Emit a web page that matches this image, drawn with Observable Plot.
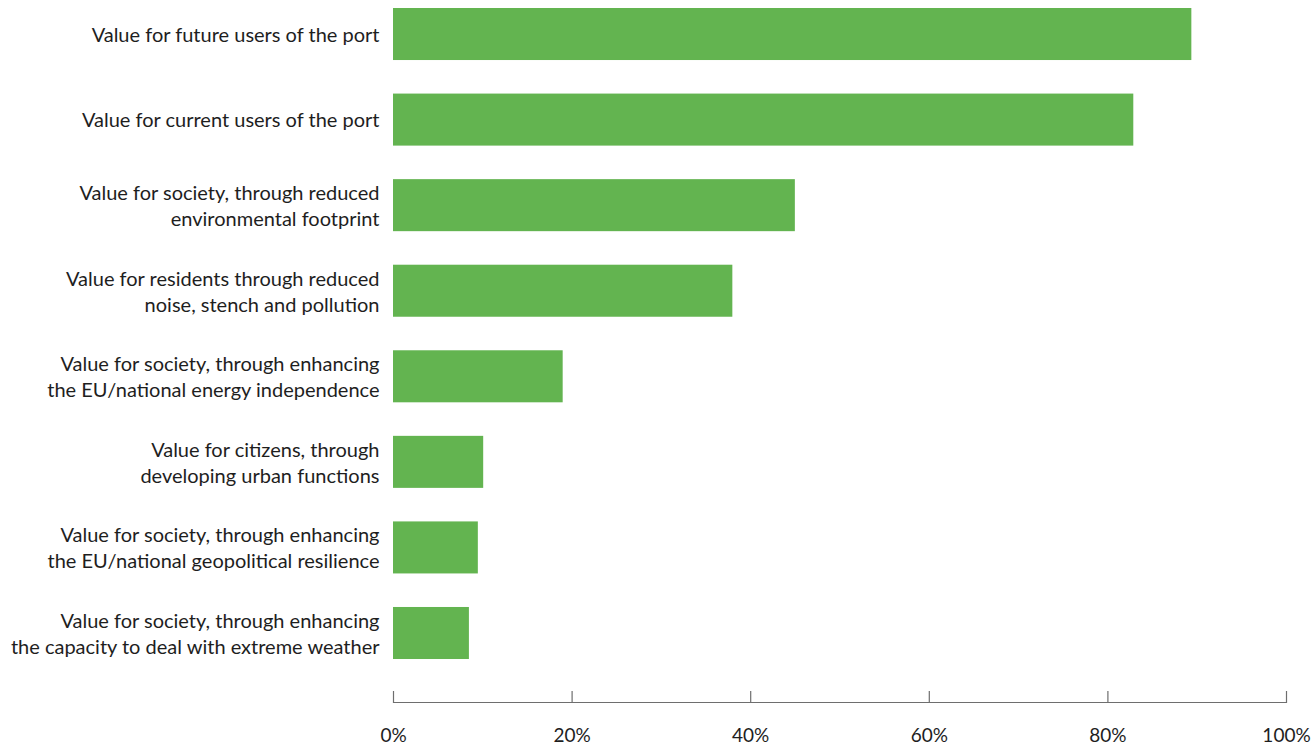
<!DOCTYPE html>
<html><head><meta charset="utf-8">
<script src="https://cdn.jsdelivr.net/npm/d3@7"></script>
<script src="https://cdn.jsdelivr.net/npm/@observablehq/plot@0.6"></script>
<style>body{margin:0;background:#fff}</style>
</head><body><div id="chart"></div>
<script>
const categories = [
  "Value for future users of the port",
  "Value for current users of the port",
  "Value for society, through reduced\nenvironmental footprint",
  "Value for residents through reduced\nnoise, stench and pollution",
  "Value for society, through enhancing\nthe EU/national energy independence",
  "Value for citizens, through\ndeveloping urban functions",
  "Value for society, through enhancing\nthe EU/national geopolitical resilience",
  "Value for society, through enhancing\nthe capacity to deal with extreme weather"
];
const values = [89.4, 82.9, 45.0, 38.0, 19.0, 10.1, 9.5, 8.5];
const xTicks = [0, 20, 40, 60, 80, 100];

const data = categories.map((c, i) => ({category: c, value: values[i]}));

const chart = Plot.plot({
  width: 1312, height: 752,
  marginLeft: 393, marginRight: 26, marginTop: 0, marginBottom: 50,
  style: {fontFamily: "Lato, sans-serif", fontSize: "20px", color: "#1e1e1e", background: "#fff"},
  x: {domain: [0, 100]},
  y: {domain: categories, paddingInner: 0.392, paddingOuter: 0.298, align: 0.157, round: false},
  marks: [
    Plot.barX(data, {x: "value", y: "category", fill: "#63b450"}),
    Plot.axisY({tickSize: 0, tickPadding: 14, lineHeight: 1.3, fontSize: 20, dy: -1, label: null}),
    Plot.axisX({ticks: xTicks, tickSize: 0, tickPadding: 26, tickFormat: d => d + "%", label: null, fontSize: 19}),
    Plot.frame({anchor: "bottom", stroke: "#6e6e6e", strokeWidth: 1.2}),
    Plot.tickX(xTicks, {x: d => d, insetTop: 691, stroke: "#6e6e6e", strokeWidth: 1.2})
  ]
});
document.getElementById("chart").append(chart);
</script>
</body></html>
